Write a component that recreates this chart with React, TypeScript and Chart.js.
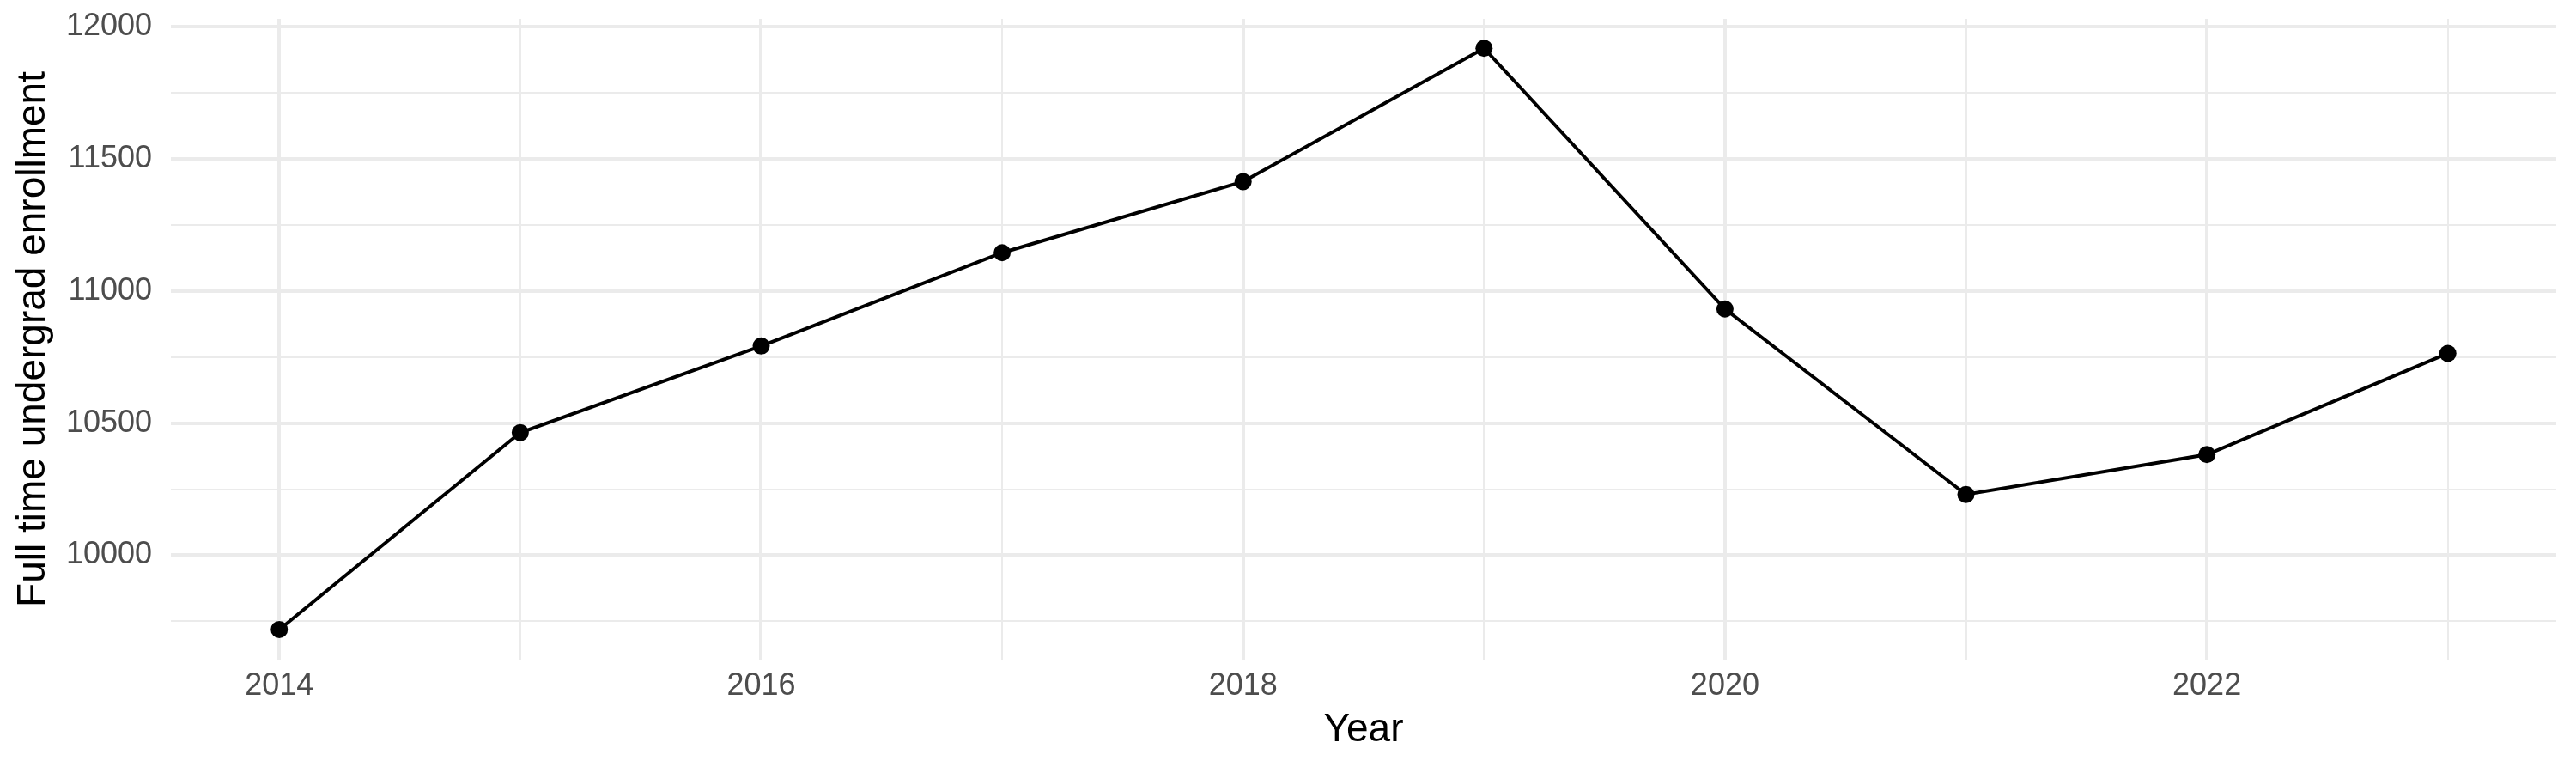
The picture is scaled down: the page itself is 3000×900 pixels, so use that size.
import React, { useEffect, useRef } from 'react';
import { Chart, registerables } from 'chart.js';

Chart.register(...registerables);

// enrollment by year
const years = [2014, 2015, 2016, 2017, 2018, 2019, 2020, 2021, 2022, 2023];
const enrollment = [9719, 10464, 10792, 11145, 11414, 11919, 10932, 10230, 10381, 10764];

// grid positions (major + minor) and which get labels
const xGridYears = [2014, 2015, 2016, 2017, 2018, 2019, 2020, 2021, 2022, 2023];
const xLabelYears = [2014, 2016, 2018, 2020, 2022];
const yGridValues = [9750, 10000, 10250, 10500, 10750, 11000, 11250, 11500, 11750, 12000];
const yLabelValues = [10000, 10500, 11000, 11500, 12000];

const FONT = "'Liberation Sans', Arial, Helvetica, sans-serif";
const GRID = '#EBEBEB';

const App: React.FC = () => {
  const chartRef = useRef<HTMLCanvasElement | null>(null);

  useEffect(() => {
    if (!chartRef.current) return;
    const ctx = chartRef.current.getContext('2d');
    if (!ctx) return;

    const myChart = new Chart(ctx, {
      type: 'line',
      data: {
        datasets: [
          {
            data: years.map((y, i) => ({ x: y, y: enrollment[i] })),
            borderColor: '#000000',
            backgroundColor: '#000000',
            borderWidth: 4,
            pointRadius: 10,
            pointBorderWidth: 0,
            pointBackgroundColor: '#000000',
            tension: 0,
          },
        ],
      },
      options: {
        responsive: false,
        animation: false,
        devicePixelRatio: 1,
        layout: { padding: { top: 22, right: 23, left: 0, bottom: 0 } },
        plugins: {
          legend: { display: false },
          tooltip: { enabled: false },
        },
        scales: {
          x: {
            type: 'linear',
            min: 2013.55,
            max: 2023.45,
            afterBuildTicks: (scale: any) => {
              scale.ticks = xGridYears.map((v) => ({ value: v }));
            },
            afterFit: (scale: any) => {
              scale.height = 132;
              scale.paddingLeft = 0;
              scale.paddingRight = 0;
            },
            border: { display: false },
            grid: {
              drawTicks: false,
              tickLength: 0,
              color: GRID,
              lineWidth: (c: any) => (c.tick && c.tick.value % 2 === 0 ? 4 : 2),
            },
            ticks: {
              autoSkip: false,
              maxRotation: 0,
              padding: 9,
              color: '#4D4D4D',
              font: { family: FONT, size: 36 },
              callback: (v: any) => (xLabelYears.includes(Number(v)) ? String(v) : ''),
            },
            title: {
              display: true,
              text: 'Year',
              color: '#000000',
              font: { family: FONT, size: 46 },
              padding: { top: 0, bottom: 22 },
            },
          },
          y: {
            type: 'linear',
            min: 9605,
            max: 12030,
            afterBuildTicks: (scale: any) => {
              scale.ticks = yGridValues.map((v) => ({ value: v }));
            },
            afterFit: (scale: any) => {
              scale.width = 199;
              scale.paddingTop = 0;
              scale.paddingBottom = 0;
            },
            border: { display: false },
            grid: {
              drawTicks: false,
              tickLength: 0,
              color: GRID,
              lineWidth: (c: any) => (c.tick && c.tick.value % 500 === 0 ? 4 : 2),
            },
            ticks: {
              autoSkip: false,
              crossAlign: 'near',
              padding: 22,
              color: '#4D4D4D',
              font: { family: FONT, size: 36 },
              callback: (v: any) => (yLabelValues.includes(Number(v)) ? String(v) : ''),
            },
            title: {
              display: true,
              text: 'Full time undergrad enrollment',
              color: '#000000',
              font: { family: FONT, size: 46 },
              padding: { top: 12, bottom: 0 },
            },
          },
        },
      },
    });

    return () => {
      myChart.destroy();
    };
  }, []);

  return (
    <div style={{ position: 'fixed', left: 0, top: 0, width: 3000, height: 900, background: '#ffffff' }}>
      <canvas ref={chartRef} width={3000} height={900} style={{ width: 3000, height: 900 }} />
    </div>
  );
};

export default App;
